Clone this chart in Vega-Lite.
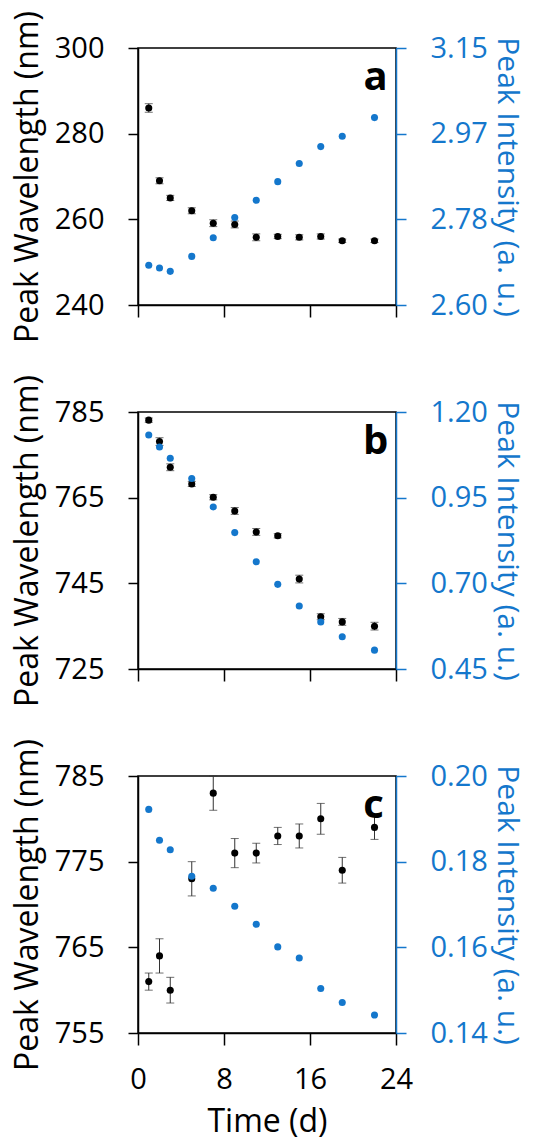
{
  "$schema": "https://vega.github.io/schema/vega-lite/v6.json",
  "autosize": "none",
  "padding": {"left": 138, "top": 48, "right": 396, "bottom": 1098},
  "spacing": 107,
  "bounds": "flush",
  "datasets": {
    "a": [
      {"t": 1, "wl": 286, "e": 1.0, "in": 2.685},
      {"t": 2, "wl": 269, "e": 0.7, "in": 2.679},
      {"t": 3, "wl": 265, "e": 0.6, "in": 2.672},
      {"t": 5, "wl": 262, "e": 0.7, "in": 2.704},
      {"t": 7, "wl": 259.1, "e": 0.8, "in": 2.744},
      {"t": 9, "wl": 258.8, "e": 0.8, "in": 2.787},
      {"t": 11, "wl": 255.8, "e": 0.8, "in": 2.824},
      {"t": 13, "wl": 256, "e": 0.5, "in": 2.864},
      {"t": 15, "wl": 255.8, "e": 0.6, "in": 2.903},
      {"t": 17, "wl": 256, "e": 0.6, "in": 2.939},
      {"t": 19, "wl": 255, "e": 0.4, "in": 2.961},
      {"t": 22, "wl": 255, "e": 0.4, "in": 3.001}
    ],
    "b": [
      {"t": 1, "wl": 783.1, "e": 0.5, "in": 1.133},
      {"t": 2, "wl": 778.1, "e": 0.9, "in": 1.098},
      {"t": 3, "wl": 772.1, "e": 0.8, "in": 1.065},
      {"t": 5, "wl": 768.2, "e": 0.6, "in": 1.006},
      {"t": 7, "wl": 765.1, "e": 0.6, "in": 0.923},
      {"t": 9, "wl": 761.9, "e": 0.8, "in": 0.848},
      {"t": 11, "wl": 757.0, "e": 0.8, "in": 0.763},
      {"t": 13, "wl": 756.1, "e": 0.5, "in": 0.697},
      {"t": 15, "wl": 746.0, "e": 0.9, "in": 0.634},
      {"t": 17, "wl": 737.2, "e": 0.7, "in": 0.587},
      {"t": 19, "wl": 736.0, "e": 0.8, "in": 0.544},
      {"t": 22, "wl": 735.0, "e": 0.9, "in": 0.505}
    ],
    "c": [
      {"t": 1, "wl": 761.0, "e": 1.0, "in": 0.1922},
      {"t": 2, "wl": 764.0, "e": 2.0, "in": 0.185},
      {"t": 3, "wl": 760.0, "e": 1.5, "in": 0.1828},
      {"t": 5, "wl": 773.0, "e": 2.0, "in": 0.1766},
      {"t": 7, "wl": 783.0, "e": 2.0, "in": 0.1738},
      {"t": 9, "wl": 776.0, "e": 1.7, "in": 0.1696},
      {"t": 11, "wl": 776.0, "e": 1.15, "in": 0.1654},
      {"t": 13, "wl": 778.0, "e": 1.0, "in": 0.1601},
      {"t": 15, "wl": 778.0, "e": 1.4, "in": 0.1575},
      {"t": 17, "wl": 780.0, "e": 1.8, "in": 0.1504},
      {"t": 19, "wl": 774.0, "e": 1.5, "in": 0.1471},
      {"t": 22, "wl": 779.0, "e": 1.4, "in": 0.1442}
    ]
  },
  "config": {
    "font": "Open Sans",
    "view": {"stroke": "#000", "strokeWidth": 1.5},
    "axis": {
      "grid": false,
      "labelFont": "Open Sans",
      "titleFont": "Open Sans",
      "labelFontSize": 29,
      "titleFontSize": 32,
      "titleFontWeight": "normal",
      "labelColor": "#000",
      "titleColor": "#000",
      "domainColor": "#000",
      "tickColor": "#000",
      "domainWidth": 1.5,
      "tickWidth": 1.5,
      "tickSize": 10,
      "labelPadding": 24,
      "labelOverlap": false,
      "labelBound": false,
      "labelFlush": false
    }
  },
  "vconcat": [
    {
      "width": 258, "height": 257,
      "layer": [
        {
          "layer": [
            {
              "data": {"name": "a"},
              "mark": {"type": "errorbar", "color": "#333", "ticks": {"size": 8, "color": "#333"}},
              "encoding": {
                "x": {"field": "t", "type": "quantitative", "scale": {"domain": [0, 24], "nice": false}, "axis": {"values": [0, 8, 16, 24], "labels": false, "title": null, "tickSize": 12}},
                "y": {"field": "wl", "type": "quantitative", "scale": {"domain": [240, 300], "nice": false, "zero": false}, "axis": {"values": [240, 260, 280, 300], "title": "Peak Wavelength (nm)", "titlePadding": 10}},
                "yError": {"field": "e"}
              }
            },
            {
              "data": {"name": "a"},
              "mark": {"type": "point", "filled": true, "size": 50, "color": "#000", "opacity": 1},
              "encoding": {"x": {"field": "t", "type": "quantitative"}, "y": {"field": "wl", "type": "quantitative"}}
            },
            {
              "data": {"values": [{"t": 22.1, "wl": 290.2, "lab": "a"}]},
              "mark": {"type": "text", "font": "Open Sans", "fontWeight": "bold", "fontSize": 40, "baseline": "alphabetic", "align": "center", "color": "#000"},
              "encoding": {"x": {"field": "t", "type": "quantitative"}, "y": {"field": "wl", "type": "quantitative"}, "text": {"field": "lab"}}
            }
          ]
        },
        {
          "data": {"name": "a"},
          "mark": {"type": "point", "filled": true, "size": 50, "color": "#1477cc", "opacity": 1},
          "encoding": {
            "x": {"field": "t", "type": "quantitative"},
            "y": {"field": "in", "type": "quantitative", "scale": {"domain": [2.6, 3.15], "nice": false, "zero": false}, "axis": {"orient": "right", "values": [2.6, 2.78333, 2.96667, 3.15], "format": ".2f", "title": "Peak Intensity (a. u.)", "titleFontSize": 30, "titlePadding": 4, "labelColor": "#1477cc", "titleColor": "#1477cc", "domainColor": "#1477cc", "tickColor": "#1477cc"}}
          }
        }
      ],
      "resolve": {"scale": {"y": "independent"}}
    },
    {
      "width": 258, "height": 257,
      "layer": [
        {
          "layer": [
            {
              "data": {"name": "b"},
              "mark": {"type": "errorbar", "color": "#333", "ticks": {"size": 8, "color": "#333"}},
              "encoding": {
                "x": {"field": "t", "type": "quantitative", "scale": {"domain": [0, 24], "nice": false}, "axis": {"values": [0, 8, 16, 24], "labels": false, "title": null, "tickSize": 12}},
                "y": {"field": "wl", "type": "quantitative", "scale": {"domain": [725, 785], "nice": false, "zero": false}, "axis": {"values": [725, 745, 765, 785], "title": "Peak Wavelength (nm)", "titlePadding": 10}},
                "yError": {"field": "e"}
              }
            },
            {
              "data": {"name": "b"},
              "mark": {"type": "point", "filled": true, "size": 50, "color": "#000", "opacity": 1},
              "encoding": {"x": {"field": "t", "type": "quantitative"}, "y": {"field": "wl", "type": "quantitative"}}
            },
            {
              "data": {"values": [{"t": 22.1, "wl": 775.2, "lab": "b"}]},
              "mark": {"type": "text", "font": "Open Sans", "fontWeight": "bold", "fontSize": 40, "baseline": "alphabetic", "align": "center", "color": "#000"},
              "encoding": {"x": {"field": "t", "type": "quantitative"}, "y": {"field": "wl", "type": "quantitative"}, "text": {"field": "lab"}}
            }
          ]
        },
        {
          "data": {"name": "b"},
          "mark": {"type": "point", "filled": true, "size": 50, "color": "#1477cc", "opacity": 1},
          "encoding": {
            "x": {"field": "t", "type": "quantitative"},
            "y": {"field": "in", "type": "quantitative", "scale": {"domain": [0.45, 1.2], "nice": false, "zero": false}, "axis": {"orient": "right", "values": [0.45, 0.7, 0.95, 1.2], "format": ".2f", "title": "Peak Intensity (a. u.)", "titleFontSize": 30, "titlePadding": 4, "labelColor": "#1477cc", "titleColor": "#1477cc", "domainColor": "#1477cc", "tickColor": "#1477cc"}}
          }
        }
      ],
      "resolve": {"scale": {"y": "independent"}}
    },
    {
      "width": 258, "height": 257,
      "layer": [
        {
          "layer": [
            {
              "data": {"name": "c"},
              "mark": {"type": "errorbar", "color": "#333", "ticks": {"size": 8, "color": "#333"}},
              "encoding": {
                "x": {"field": "t", "type": "quantitative", "scale": {"domain": [0, 24], "nice": false}, "axis": {"values": [0, 8, 16, 24], "title": "Time (d)", "tickSize": 12, "labelPadding": 20, "titlePadding": 12}},
                "y": {"field": "wl", "type": "quantitative", "scale": {"domain": [755, 785], "nice": false, "zero": false}, "axis": {"values": [755, 765, 775, 785], "title": "Peak Wavelength (nm)", "titlePadding": 10}},
                "yError": {"field": "e"}
              }
            },
            {
              "data": {"name": "c"},
              "mark": {"type": "point", "filled": true, "size": 50, "color": "#000", "opacity": 1},
              "encoding": {"x": {"field": "t", "type": "quantitative"}, "y": {"field": "wl", "type": "quantitative"}}
            },
            {
              "data": {"values": [{"t": 21.9, "wl": 780.1, "lab": "c"}]},
              "mark": {"type": "text", "font": "Open Sans", "fontWeight": "bold", "fontSize": 40, "baseline": "alphabetic", "align": "center", "color": "#000"},
              "encoding": {"x": {"field": "t", "type": "quantitative"}, "y": {"field": "wl", "type": "quantitative"}, "text": {"field": "lab"}}
            }
          ]
        },
        {
          "data": {"name": "c"},
          "mark": {"type": "point", "filled": true, "size": 50, "color": "#1477cc", "opacity": 1},
          "encoding": {
            "x": {"field": "t", "type": "quantitative"},
            "y": {"field": "in", "type": "quantitative", "scale": {"domain": [0.14, 0.2], "nice": false, "zero": false}, "axis": {"orient": "right", "values": [0.14, 0.16, 0.18, 0.2], "format": ".2f", "title": "Peak Intensity (a. u.)", "titleFontSize": 30, "titlePadding": 4, "labelColor": "#1477cc", "titleColor": "#1477cc", "domainColor": "#1477cc", "tickColor": "#1477cc"}}
          }
        }
      ],
      "resolve": {"scale": {"y": "independent"}}
    }
  ]
}
